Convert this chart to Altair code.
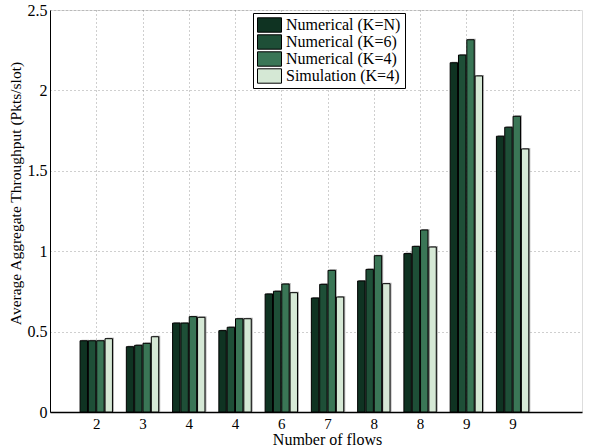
import altair as alt
import pandas as pd

flow_labels = ["2", "3", "4", "4", "6", "7", "8", "8", "9", "9"]
series_names = ["Numerical (K=N)", "Numerical (K=6)", "Numerical (K=4)", "Simulation (K=4)"]
k_n = [0.443, 0.406, 0.553, 0.506, 0.734, 0.709, 0.815, 0.985, 2.172, 1.715]
k_6 = [0.443, 0.415, 0.553, 0.527, 0.751, 0.794, 0.887, 1.030, 2.220, 1.771]
k_4 = [0.443, 0.427, 0.593, 0.580, 0.796, 0.881, 0.972, 1.132, 2.315, 1.839]
sim = [0.456, 0.468, 0.589, 0.580, 0.742, 0.715, 0.798, 1.026, 2.090, 1.636]
colors = ["#0f3322", "#1e4f37", "#3a7656", "#d5e8d5"]

rows = []
for s_i, (name, vals) in enumerate(zip(series_names, [k_n, k_6, k_4, sim])):
    for g_i, v in enumerate(vals):
        rows.append({"group": g_i + 1, "series": name, "s": s_i, "value": v})
df = pd.DataFrame(rows)

label_expr = "[" + ",".join("'%s'" % l for l in flow_labels) + "][datum.value - 1]"

font = "Liberation Serif"
fs = 16

base = alt.Chart(df).transform_calculate(
    x0="datum.group + (datum.s - 1.5) * 0.18 - 0.08",
    x1="datum.group + (datum.s - 1.5) * 0.18 + 0.08",
)

x_enc = alt.X("x0:Q",
              scale=alt.Scale(domain=[0, 11.5], nice=False, zero=False),
              axis=alt.Axis(values=list(range(1, len(flow_labels) + 1)), labelExpr=label_expr,
                            title="Number of flows", titleX=277, grid=True, gridDash=[1, 3],
                            gridColor="#888", gridOpacity=0.8, ticks=False,
                            domainColor="black", domainWidth=1.5,
                            labelFont=font, labelFontSize=15, labelColor="black", labelPadding=4,
                            titleFont=font, titleFontSize=fs, titleFontWeight="normal",
                            titleColor="black", titlePadding=0))
y_enc = alt.Y("value:Q", stack=None,
              scale=alt.Scale(domain=[0, 2.5], nice=False),
              axis=alt.Axis(values=[0, 0.5, 1, 1.5, 2, 2.5], format="~g",
                            title="Average Aggregate Throughput (Pkts/slot)", titleY=183,
                            grid=True, gridDash=[1, 3], gridColor="#888", gridOpacity=0.8,
                            ticks=False, domainColor="black", domainWidth=1,
                            labelFont=font, labelFontSize=fs, labelColor="black", labelPadding=3,
                            titleFont=font, titleFontSize=15.5, titleFontWeight="normal",
                            titleColor="black", titlePadding=4))

shadow = base.mark_bar(color="#8a8a8a", opacity=0.7, xOffset=1.5, x2Offset=1.5,
                       yOffset=-1).encode(
    x=x_enc, x2="x1:Q", y=y_enc, y2=alt.datum(0))

bars = base.mark_bar(stroke="black", strokeWidth=1).encode(
    x=x_enc,
    x2="x1:Q",
    y=y_enc,
    y2=alt.datum(0),
    color=alt.Color("series:N",
                    scale=alt.Scale(domain=series_names, range=colors),
                    legend=alt.Legend(title=None, orient="none", legendX=203, legendY=3,
                                      symbolType="M-1,-0.6H1V0.6H-1Z", symbolSize=576,
                                      symbolStrokeColor="black", symbolStrokeWidth=1,
                                      symbolOpacity=1, symbolOffset=0, labelOffset=4,
                                      clipHeight=16,
                                      labelFont=font, labelFontSize=fs, labelColor="black",
                                      labelLimit=300, rowPadding=1, padding=4,
                                      strokeColor="black", fillColor="white",
                                      cornerRadius=0)),
)

chart = alt.layer(shadow, bars).properties(
    width=532, height=402,
    autosize=alt.AutoSizeParams(type="none"),
    padding={"left": 50, "top": 10, "right": 21, "bottom": 35},
).configure_view(stroke="black", strokeWidth=1).configure(background="white")

chart.save("out.html", embed_options={"renderer": "svg", "actions": False})
